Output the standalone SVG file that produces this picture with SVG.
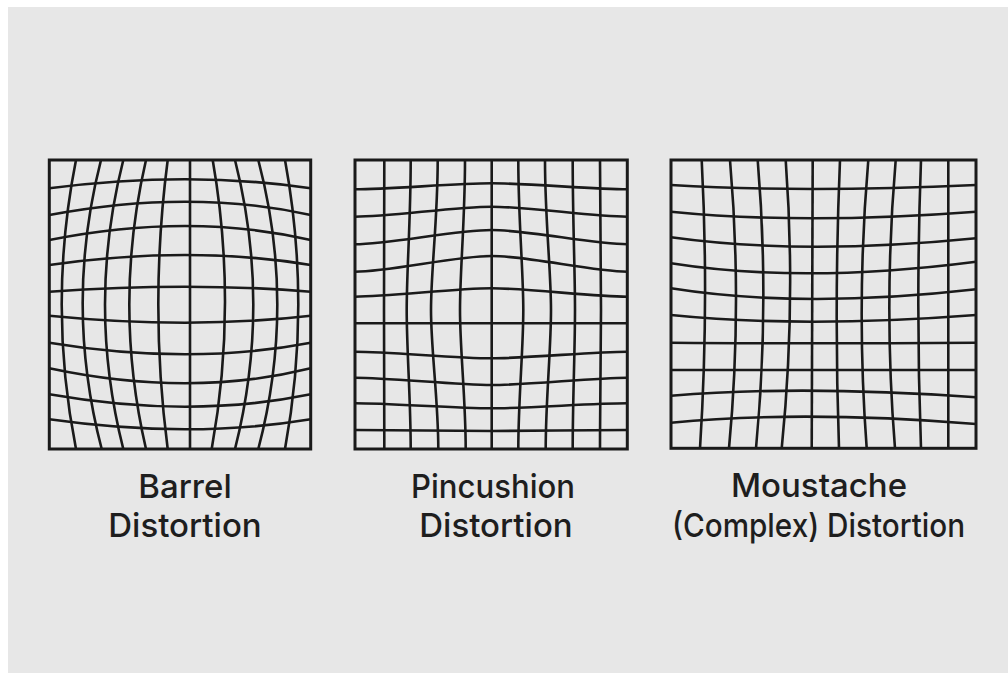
<svg xmlns="http://www.w3.org/2000/svg" width="1008" height="673" viewBox="0 0 1008 673">
<style>
.g{fill:none;stroke:#1a1a1a;stroke-width:2.6;stroke-linecap:butt}
.b{fill:none;stroke:#1a1a1a;stroke-width:3}
.t{font-family:Inter,"Liberation Sans",sans-serif;font-size:33px;font-weight:500;fill:#1e1e1e;text-anchor:middle}
</style>
<rect x="0" y="0" width="1008" height="673" fill="#ffffff"/>
<rect x="8" y="7" width="1000" height="666" fill="#e7e7e7"/>

<g id="barrel">
<g class="g">
<path d="M76,160 Q47.4,304.5 76,449"/>
<path d="M101,160 Q64,304.5 101.7,449"/>
<path d="M123.3,160 Q86.7,304.5 123.3,449"/>
<path d="M146,160 Q112.6,304.5 146,449"/>
<path d="M167.7,160 Q148.9,304.5 167.7,449"/>
<path d="M190,160 L190,449"/>
<path d="M212.7,160 Q237.8,304.5 211.7,449"/>
<path d="M235,160 Q271.6,304.5 235,449"/>
<path d="M258.3,160 Q296.3,304.5 258.3,449"/>
<path d="M285,160 Q311.6,304.5 285,449"/>
<path d="M49.3,188.3 Q190,170.3 310.7,188.3"/>
<path d="M49.3,215 Q190,188.4 310.7,215"/>
<path d="M49.3,240 Q190,212 310.7,240"/>
<path d="M49.3,265 Q190,245 310.7,265"/>
<path d="M49.3,291.7 Q190,281.7 310.7,291.7"/>
<path d="M49.3,315.7 Q190,329.7 310.7,315.7"/>
<path d="M49.3,342.7 Q190,365.9 310.7,342.7"/>
<path d="M49.3,368.3 Q190,398.3 310.7,368.3"/>
<path d="M49.3,394.3 Q190,419.1 310.7,394.3"/>
<path d="M49.3,419.3 Q190,439.3 310.7,419.3"/>
</g>
<rect class="b" x="49.3" y="160" width="261.4" height="289"/>
<text class="t" x="185" y="498">Barrel</text>
<text class="t" x="185" y="537">Distortion</text>
</g>

<g id="pincushion">
<g class="g">
<path d="M384.3,160 C384.3,220 384,270 384,310 S384.3,400 384.3,449"/>
<path d="M410.7,160 C410.7,220 406.7,270 406.7,310 S410.7,400 410.7,449"/>
<path d="M437.7,160 C437.7,220 431,270 431,310 S438.3,400 438.3,449"/>
<path d="M465,160 C465,220 460,270 460,310 S465.7,400 465.7,449"/>
<path d="M491.7,160 L491.7,449"/>
<path d="M518.3,160 C518.3,220 523.3,270 523.3,310 S518.3,400 518.3,449"/>
<path d="M545,160 C545,220 551,270 551,310 S545.7,400 545.7,449"/>
<path d="M572.7,160 C572.7,220 575,270 575,310 S572.7,400 572.7,449"/>
<path d="M600,160 C600,220 601,270 601,310 S600,400 600,449"/>
<path d="M355,189.3 C390,189.3 455,183.3 491.7,183.3 S593,189.3 627.3,189.3"/>
<path d="M355,216.7 C390,216.7 455,206.7 491.7,206.7 S593,216.7 627.3,216.7"/>
<path d="M355,244.3 C390,244.3 455,230 491.7,230 S593,244.3 627.3,244.3"/>
<path d="M355,271.7 C390,271.7 455,256 491.7,256 S593,271.7 627.3,271.7"/>
<path d="M355,296.7 C390,296.7 455,288.3 491.7,288.3 S593,296.7 627.3,296.7"/>
<path d="M355,323.3 L627.3,323.3"/>
<path d="M355,351.7 C390,351.7 455,358.3 491.7,358.3 S593,351.7 627.3,351.7"/>
<path d="M355,377.7 C390,377.7 455,385 491.7,385 S593,377.7 627.3,377.7"/>
<path d="M355,403.3 C390,403.3 455,408.3 491.7,408.3 S593,403.3 627.3,403.3"/>
<path d="M355,430 C390,430 455,431 491.7,431 S593,430 627.3,430"/>
</g>
<rect class="b" x="355" y="160" width="272.3" height="289"/>
<text class="t" x="493" y="498" textLength="164" lengthAdjust="spacingAndGlyphs">Pincushion</text>
<text class="t" x="496" y="537">Distortion</text>
</g>

<g id="moustache">
<g class="g">
<path d="M701.7,160 Q709.2,304.2 700,448.3"/>
<path d="M730,160 Q742.5,304.2 729,448.3"/>
<path d="M757.7,160 Q769.8,304.2 756,448.3"/>
<path d="M785.7,160 Q796.3,304.2 781.7,448.3"/>
<path d="M812.7,160 L811.7,448.3"/>
<path d="M840,160 Q833.9,304.2 839,448.3"/>
<path d="M868.3,160 Q855.9,304.2 866.7,448.3"/>
<path d="M895.7,160 Q883.3,304.2 895,448.3"/>
<path d="M921,160 Q915.6,304.2 921,448.3"/>
<path d="M948.3,160 L948.3,448.3"/>
<path d="M671,185 Q802.5,193 976,185"/>
<path d="M671,211.7 Q802.5,224.9 976,211.7"/>
<path d="M671,237.3 Q802.5,255.6 976,238.3"/>
<path d="M671,263.3 Q802.5,284.1 976,261.7"/>
<path d="M671,288.3 Q802.5,309.2 976,289.3"/>
<path d="M671,315 Q802.5,328.4 976,315"/>
<path d="M671,342.7 Q802.5,343.9 976,342.7"/>
<path d="M671,370 L976,370"/>
<path d="M671,395.7 Q802.5,384.9 976,397.3"/>
<path d="M671,422.7 Q802.5,410 976,424"/>
</g>
<rect class="b" x="671" y="160" width="305" height="288.3"/>
<text class="t" x="819" y="497">Moustache</text>
<text class="t" x="818.5" y="537" textLength="293" lengthAdjust="spacingAndGlyphs">(Complex) Distortion</text>
</g>
</svg>
